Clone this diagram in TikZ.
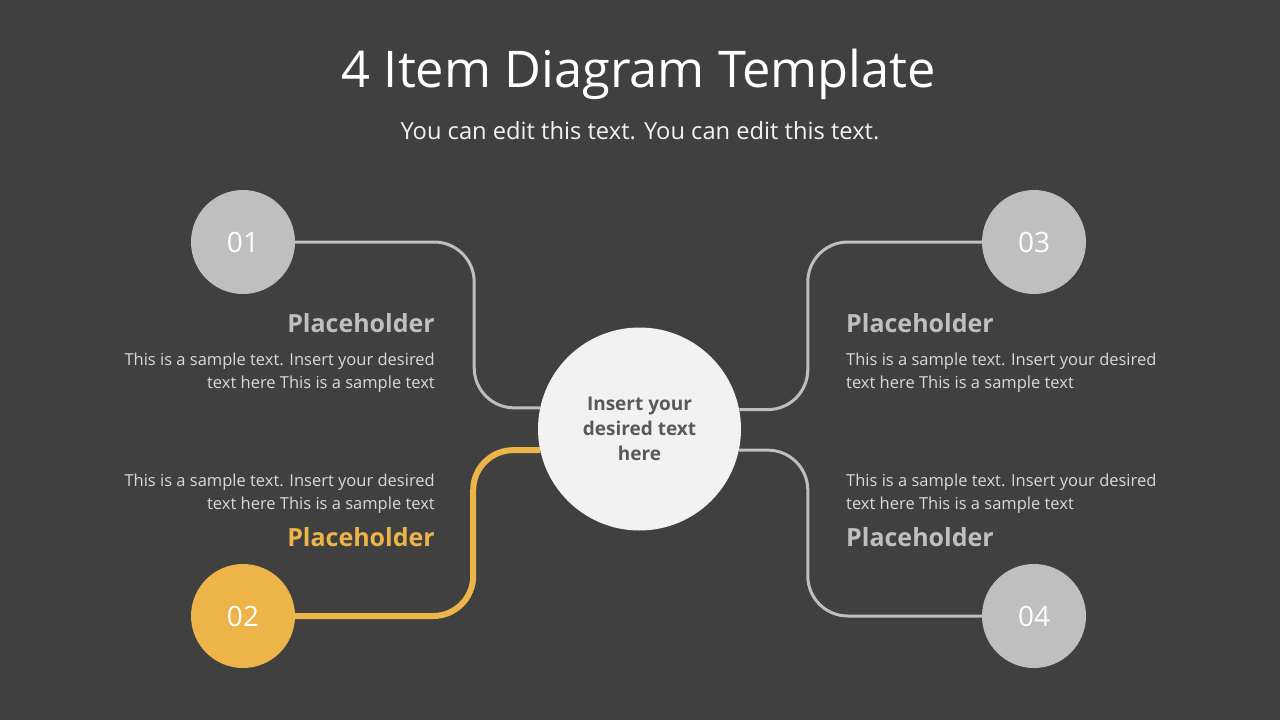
\documentclass[tikz,border=0pt]{standalone}
\usepackage{fontspec}
\setmainfont{Open Sans}
\usetikzlibrary{backgrounds}
\definecolor{bg}{HTML}{404040}
\definecolor{lgrey}{HTML}{BFBFBF}
\definecolor{gold}{HTML}{ECB449}
\definecolor{ctr}{HTML}{F2F2F2}
\definecolor{ctrtext}{HTML}{595959}
\definecolor{body}{HTML}{D9D9D9}
\definecolor{phgrey}{HTML}{BFBFBF}
\begin{document}
\begin{tikzpicture}[x=1pt,y=-1pt,
  numcircle/.style={circle,minimum size=104pt,inner sep=0pt,fill=lgrey,text=white,font=\fontsize{28}{30}\selectfont},
  conn/.style={draw=lgrey,line width=3pt,rounded corners=40pt},
  connhi/.style={draw=gold,line width=6pt,rounded corners=40pt},
  ph/.style={font=\fontsize{25}{30}\selectfont\bfseries,text=phgrey,inner sep=0pt},
  bodytxt/.style={font=\fontsize{16.5}{23}\selectfont,text=body,inner sep=0pt},
]
\useasboundingbox (0,0) rectangle (1280,720);

\node[inner sep=0pt,anchor=base,text=white,font=\fontsize{50.6}{56}\selectfont] (title) at (639,87) {4 Item Diagram Template};
\node[inner sep=0pt,anchor=base,text=ctr,font=\fontsize{23.7}{26}\selectfont] (sub) at (640,139) {You can edit this text. You can edit this text.};

\node[circle,minimum size=203pt,inner sep=0pt,fill=ctr,text=ctrtext,align=center,font=\fontsize{19}{25}\selectfont\bfseries] (cc) at (639.5,429) {\raisebox{-2pt}{\parbox{120pt}{\centering Insert your\\desired text\\here}}};
\node[numcircle] (c1) at (243,242) {01};
\node[numcircle,fill=gold] (c2) at (243,616) {02};
\node[numcircle] (c3) at (1034,242) {03};
\node[numcircle] (c4) at (1034,616) {04};

\begin{scope}[on background layer]
\fill[bg] (0,0) rectangle (1280,720);
\draw[conn] (c1.east) -- ++(179,0) |- (cc.168.6);
\draw[connhi] (c2.east) -- ++(178,0) |- (cc.192);
\draw[conn] (c3.west) -- ++(-174,0) |- (cc.11.4);
\draw[conn] (c4.west) -- ++(-174,0) |- (cc.-12);
\end{scope}

% left texts
\node[ph,anchor=base east] (p1) at (435,332) {Placeholder};
\node[bodytxt,anchor=base east] (b1a) at (435,365) {This is a sample text. Insert your desired};
\node[bodytxt,anchor=base east] (b1b) at (435,388) {text here This is a sample text};

\node[bodytxt,anchor=base east] (b2a) at (435,486) {This is a sample text. Insert your desired};
\node[bodytxt,anchor=base east] (b2b) at (435,509) {text here This is a sample text};
\node[ph,anchor=base east,text=gold] (p2) at (435,546) {Placeholder};

% right texts
\node[ph,anchor=base west] (p3) at (846,332) {Placeholder};
\node[bodytxt,anchor=base west] (b3a) at (846,365) {This is a sample text. Insert your desired};
\node[bodytxt,anchor=base west] (b3b) at (846,388) {text here This is a sample text};

\node[bodytxt,anchor=base west] (b4a) at (846,486) {This is a sample text. Insert your desired};
\node[bodytxt,anchor=base west] (b4b) at (846,509) {text here This is a sample text};
\node[ph,anchor=base west] (p4) at (846,546) {Placeholder};
\end{tikzpicture}
\end{document}
